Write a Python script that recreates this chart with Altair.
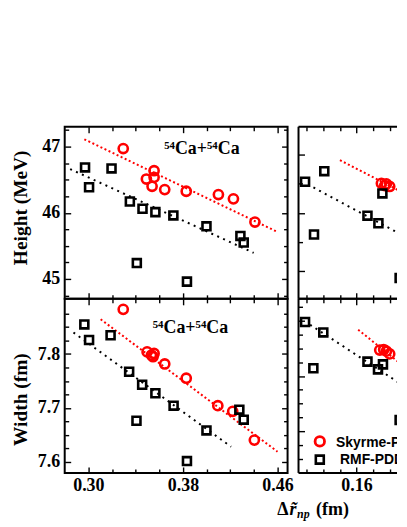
import altair as alt
import pandas as pd

SERIF = "Liberation Serif, Times New Roman, serif"
SANS = "Liberation Sans, Arial, sans-serif"
RED = "#ff0000"
BLACK = "#000000"

models = ["Skyrme-PDF", "RMF-PDDF"]

# ---------------- 54Ca+54Ca : Height ----------------
ca_h_sky_x = [0.3295, 0.3556, 0.3491, 0.3556, 0.3539, 0.3646, 0.3828, 0.4100, 0.4227, 0.4409]
ca_h_sky_y = [46.97, 46.635, 46.51, 46.535, 46.40, 46.35, 46.325, 46.275, 46.21, 45.86]
ca_h_rmf_x = [0.2972, 0.3006, 0.3196, 0.3351, 0.3458, 0.3567, 0.3719, 0.3999, 0.3410, 0.3834, 0.4286, 0.4314]
ca_h_rmf_y = [46.685, 46.385, 46.67, 46.17, 46.06, 46.01, 45.96, 45.795, 45.24, 44.96, 45.65, 45.55]
ca_h_fit_sky_x = [0.2966, 0.4600]
ca_h_fit_sky_y = [47.11, 45.71]
ca_h_fit_rmf_x = [0.2846, 0.4398]
ca_h_fit_rmf_y = [46.66, 45.395]

# ---------------- 54Ca+54Ca : Width ----------------
ca_w_sky_x = [0.3295, 0.3497, 0.3533, 0.3556, 0.3547, 0.3646, 0.3828, 0.4095, 0.4221, 0.4404]
ca_w_sky_y = [7.883, 7.804, 7.798, 7.801, 7.795, 7.7815, 7.755, 7.704, 7.6935, 7.640]
ca_w_rmf_x = [0.2966, 0.3006, 0.3188, 0.3345, 0.3455, 0.3567, 0.3721, 0.3999, 0.3407, 0.3834, 0.4277, 0.4314]
ca_w_rmf_y = [7.855, 7.826, 7.835, 7.767, 7.743, 7.727, 7.704, 7.658, 7.676, 7.601, 7.6966, 7.678]
ca_w_fit_sky_x = [0.3104, 0.4600]
ca_w_fit_sky_y = [7.8646, 7.6185]
ca_w_fit_rmf_x = [0.2874, 0.4207]
ca_w_fit_rmf_y = [7.840, 7.6277]

# ---------------- second system : Height ----------------
sn_h_sky_x = [0.190, 0.196, 0.200, 0.194, 0.220, 0.2216]
sn_h_sky_y = [45.51, 45.50, 45.455, 45.47, 45.237, 45.955]
sn_h_rmf_x = [0.0979, 0.1211, 0.1087, 0.1912, 0.1732, 0.1864, 0.2159, 0.2120]
sn_h_rmf_y = [45.537, 45.72, 44.623, 45.335, 44.95, 44.818, 44.588, 43.869]
sn_h_fit_sky_x = [0.140, 0.300]
sn_h_fit_sky_y = [45.91, 44.73]
sn_h_fit_rmf_x = [0.108, 0.300]
sn_h_fit_rmf_y = [45.438, 43.96]

# ---------------- second system : Width ----------------
sn_w_sky_x = [0.188, 0.196, 0.200, 0.1928, 0.2192, 0.222]
sn_w_sky_y = [7.647, 7.645, 7.640, 7.648, 7.617, 7.659]
sn_w_rmf_x = [0.0979, 0.1199, 0.1079, 0.1732, 0.1859, 0.1919, 0.2159, 0.2120]
sn_w_rmf_y = [7.698, 7.679, 7.614, 7.626, 7.612, 7.621, 7.582, 7.520]
sn_w_fit_sky_x = [0.162, 0.300]
sn_w_fit_sky_y = [7.684, 7.517]
sn_w_fit_rmf_x = [0.104, 0.300]
sn_w_fit_rmf_y = [7.693, 7.5005]

# tick values
left_x_major = [0.30, 0.38, 0.46]
left_x_minor = [0.32, 0.34, 0.36, 0.40, 0.42, 0.44]
right_x_major = [0.16]
right_x_minor = [0.10, 0.12, 0.14, 0.18, 0.20]
h_y_major = [45, 46, 47]
h_y_minor = [44.75, 45.25, 45.5, 45.75, 46.25, 46.5, 46.75, 47.25]
w_y_major = [7.6, 7.7, 7.8]
w_y_minor = [7.625, 7.65, 7.675, 7.725, 7.75, 7.775, 7.825, 7.85, 7.875]
h2_y_major = [44, 45, 46]
h2_y_minor = [44.5, 45.5]
w2_y_major = [7.5, 7.6, 7.7]
w2_y_minor = [7.45, 7.475, 7.525, 7.55, 7.575, 7.625, 7.65, 7.675, 7.725]

label_ca = "⁵⁴Ca+⁵⁴Ca"
xtitle_parts = ["Δ", "r\u0303", "np", "(fm)"]

WL = 224          # left panels plot width
WR = 99           # visible part of the right panels (they run past the page edge)
HT, HB = 173, 175
LX = [0.28, 0.4685]
RX = [0.09, 0.09 + WR / 833.0]


def axis(orient, values, size, labels=False, fmt=None, title=None, **kw):
    a = dict(orient=orient, values=values, tickSize=size, offset=-size,
             domain=False, grid=False, ticks=True, tickColor=BLACK, tickWidth=1.4,
             labels=labels, title=title, labelFont=SERIF, labelFontSize=18,
             labelFontWeight="bold", labelColor=BLACK, labelFlush=False,
             labelOverlap=False, labelBound=False)
    if fmt:
        a["format"] = fmt
    a.update(kw)
    return alt.Axis(**a)


def one_row():
    return pd.DataFrame({"k": [0]})


def text_layer(txt, x, y, size=18, style="normal", font=SERIF, clip=False):
    return alt.Chart(pd.DataFrame({"t": [txt]})).mark_text(
        align="left", baseline="alphabetic", font=font, fontSize=size,
        fontWeight="bold", fontStyle=style, color=BLACK, clip=clip
    ).encode(x=alt.value(x), y=alt.value(y), text="t:N")


def panel(sky_x, sky_y, rmf_x, rmf_y, fsx, fsy, frx, fry, xdom, ydom, width, height,
          xmaj, xmin, ymaj, ymin, xlab, ylab, yfmt, ytitle, ytitle_y, ytitle_pad,
          label=None, label_x=0, label_y=0, right_side=True, extra=()):
    xs = alt.Scale(domain=xdom, nice=False, zero=False)
    ys = alt.Scale(domain=ydom, nice=False, zero=False)
    sky = pd.DataFrame({"x": sky_x, "y": sky_y})
    rmf = pd.DataFrame({"x": rmf_x, "y": rmf_y})
    fs = pd.DataFrame({"x": fsx, "y": fsy})
    fr = pd.DataFrame({"x": frx, "y": fry})

    y1 = axis("right", ymaj, 6) if right_side else None
    y2 = axis("right", ymin, 4) if right_side else None
    l1 = alt.Chart(fs).mark_line(color=RED, strokeWidth=2, strokeDash=[2, 2.5], clip=True).encode(
        x=alt.X("x:Q", scale=xs, axis=axis("top", xmaj, 6)),
        y=alt.Y("y:Q", scale=ys, axis=y1))
    l2 = alt.Chart(fr).mark_line(color=BLACK, strokeWidth=2, strokeDash=[2, 4.5], clip=True).encode(
        x=alt.X("x:Q", scale=xs, axis=axis("top", xmin, 4)),
        y=alt.Y("y:Q", scale=ys, axis=y2))
    ykw = {}
    if ytitle:
        ykw = dict(title=ytitle, titleFont=SERIF, titleFontSize=19.5, titleFontWeight="bold",
                   titleColor=BLACK, titlePadding=ytitle_pad, titleY=ytitle_y)
    l3 = alt.Chart(sky).mark_point(shape="circle", color=RED, filled=False, size=85, opacity=1,
                                   strokeWidth=2.6, clip=True).encode(
        x=alt.X("x:Q", scale=xs, axis=axis("bottom", xmaj, 6, labels=xlab, fmt=".2f", labelPadding=4)),
        y=alt.Y("y:Q", scale=ys, axis=axis("left", ymaj, 6, labels=ylab, fmt=yfmt, labelPadding=5, **ykw)))
    l4 = alt.Chart(rmf).mark_point(shape="square", color=BLACK, filled=False, size=64, opacity=1,
                                   strokeWidth=2.6, clip=True).encode(
        x=alt.X("x:Q", scale=xs, axis=axis("bottom", xmin, 4)),
        y=alt.Y("y:Q", scale=ys, axis=axis("left", ymin, 4)))
    layers = [l1, l2, l3, l4]
    if label:
        layers.append(text_layer(label, label_x, label_y, clip=True))
    props = dict(width=width, height=height)
    if not right_side:
        # frame drawn on three sides only (the panel continues past the page edge)
        rule = alt.Chart(one_row()).mark_rule(color=BLACK, strokeWidth=2)
        layers += [
            rule.encode(x=alt.value(0), x2=alt.value(width), y=alt.value(0)),
            rule.encode(x=alt.value(0), x2=alt.value(width), y=alt.value(height)),
            rule.encode(x=alt.value(0), y=alt.value(0), y2=alt.value(height)),
        ]
        props["view"] = alt.ViewBackground(stroke="transparent")
    layers += list(extra)
    return alt.layer(*layers).resolve_axis(
        x="independent", y="independent").properties(**props)


title_layers = [
    text_layer(xtitle_parts[0], 213.7, 217.3),
    text_layer(xtitle_parts[1], 226, 217.3, style="italic"),
    text_layer(xtitle_parts[2], 233.5, 220.3, size=12, style="italic"),
    text_layer(xtitle_parts[3], 252.7, 217.3),
]

legend_layers = [
    alt.Chart(one_row()).mark_point(shape="circle", color=RED, filled=False, size=90, opacity=1,
                                    strokeWidth=2.8).encode(x=alt.value(21.4), y=alt.value(143.3)),
    alt.Chart(one_row()).mark_point(shape="square", color=BLACK, filled=False, size=64, opacity=1,
                                    strokeWidth=2.6).encode(x=alt.value(21.4), y=alt.value(161.6)),
    text_layer(models[0], 37.7, 148.8, size=14, font=SANS, clip=True),
    text_layer(models[1], 41.7, 166.0, size=14, font=SANS, clip=True),
]

tl = panel(ca_h_sky_x, ca_h_sky_y, ca_h_rmf_x, ca_h_rmf_y, ca_h_fit_sky_x, ca_h_fit_sky_y,
           ca_h_fit_rmf_x, ca_h_fit_rmf_y, LX, [44.7, 47.3], WL, HT,
           left_x_major, left_x_minor, h_y_major, h_y_minor, False, True, ".0f",
           "Height (MeV)", 81, 11.4, label_ca, 100, 27)
tr = panel(sn_h_sky_x, sn_h_sky_y, sn_h_rmf_x, sn_h_rmf_y, sn_h_fit_sky_x, sn_h_fit_sky_y,
           sn_h_fit_rmf_x, sn_h_fit_rmf_y, RX, [43.51, 46.49], WR, HT,
           right_x_major, right_x_minor, h2_y_major, h2_y_minor, False, False, ".0f",
           None, 0, 0, right_side=False)
bl = panel(ca_w_sky_x, ca_w_sky_y, ca_w_rmf_x, ca_w_rmf_y, ca_w_fit_sky_x, ca_w_fit_sky_y,
           ca_w_fit_rmf_x, ca_w_fit_rmf_y, LX, [7.579, 7.9026], WL, HB,
           left_x_major, left_x_minor, w_y_major, w_y_minor, True, True, ".1f",
           "Width (fm)", 100.8, 7, label_ca, 88.5, 34, extra=title_layers)
br = panel(sn_w_sky_x, sn_w_sky_y, sn_w_rmf_x, sn_w_rmf_y, sn_w_fit_sky_x, sn_w_fit_sky_y,
           sn_w_fit_rmf_x, sn_w_fit_rmf_y, RX, [7.424, 7.740], WR, HB,
           right_x_major, right_x_minor, w2_y_major, w2_y_minor, True, False, ".1f",
           None, 0, 0, right_side=False, extra=legend_layers)

chart = alt.concat(tl, tr, bl, br, columns=2, spacing={"row": 0, "column": 11},
                   bounds="flush", align="each").properties(
    padding={"left": 1, "top": 116, "right": 0, "bottom": -1},
    background="white"
).configure_view(stroke=BLACK, strokeWidth=2)

chart.save("out.html", embed_options={"renderer": "svg", "actions": False})
